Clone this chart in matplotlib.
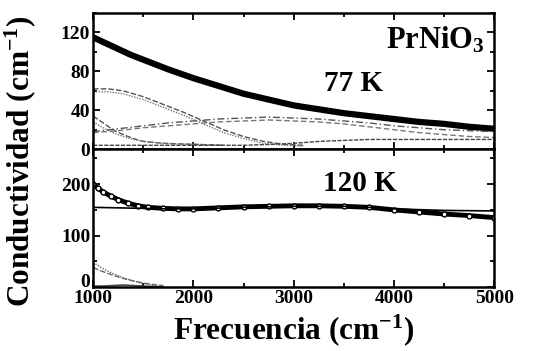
import matplotlib.pyplot as plt
from matplotlib.ticker import MultipleLocator

plt.rcParams['font.family'] = ['Liberation Serif', 'DejaVu Serif']
plt.rcParams['font.weight'] = 'bold'
plt.rcParams['mathtext.fontset'] = 'custom'
plt.rcParams['mathtext.rm'] = 'Liberation Serif:bold'
plt.rcParams['mathtext.it'] = 'Liberation Serif:bold'

# 77 K panel
freq77 = [1000, 1125, 1250, 1375, 1500, 1750, 2000, 2250, 2500, 2750, 3000,
          3250, 3500, 3750, 4000, 4250, 4500, 4750, 5000]
sigma77 = [115, 109, 103, 97, 92, 82, 73, 65, 57, 51, 45, 41, 37, 34, 31, 28, 26, 23, 21]

# oscillator components (77 K)
freqA = [1000, 1150, 1300, 1500, 1700, 1900, 2100, 2300, 2500, 2700, 2900, 3100]
compA = [62, 62, 60, 54, 46, 38, 29, 20, 13, 8, 5, 4]
compA2 = [59, 59, 57, 51, 43, 35, 26, 17, 11, 6, 4, 3]
freqB = [1000, 1100, 1200, 1300, 1400, 1500, 1700, 2000, 2300]
compB = [34, 27, 20, 15, 11, 8, 6, 5, 4]
compC = [28, 22, 17, 13, 10, 8, 6, 5, 4]
freqD = [1000, 1250, 1500, 1750, 2000, 2250, 2500, 2750, 3000, 3250, 3500,
         3750, 4000, 4250, 4500, 4750, 5000]
compD = [18, 21, 24, 27, 29, 31, 32, 33, 32, 31, 29, 27, 24, 22, 20, 19, 18]
compD2 = [17, 19, 22, 24, 26, 28, 29, 30, 29, 28, 26, 23, 20, 17, 15, 13, 12]
freqE = [1000, 1500, 2000, 2500, 2800, 3000, 3250, 3500, 3750, 4000, 4500, 5000]
compE = [4, 4, 4, 4, 5, 6, 8, 9, 10, 10, 10, 10]

# 120 K panel
freq120 = [1000, 1050, 1100, 1175, 1250, 1350, 1450, 1550, 1700, 1850, 2000,
           2250, 2500, 2750, 3000, 3250, 3500, 3750, 4000, 4250, 4500, 4750, 5000]
sigma120 = [200, 192, 185, 177, 170, 163, 158, 155, 153, 152, 152, 154, 156,
            157, 158, 158, 157, 155, 150, 146, 142, 139, 135]
freqFit = [1000, 1250, 1500, 1750, 2000, 2500, 3000, 3500, 3750, 4000, 4500, 5000]
fit120 = [155, 154, 153, 152, 152, 155, 157, 157, 155, 152, 149, 148]
freqLow = [1000, 1100, 1200, 1300, 1400, 1500, 1600, 1700]
low1 = [48, 36, 26, 18, 12, 7, 3, 1]
low2 = [38, 30, 23, 17, 12, 8, 5, 3]
low3 = [2, 2, 3, 4, 3, 2, 1, 0]

fig = plt.figure(figsize=(5.35, 3.51), dpi=100)
ax1 = fig.add_axes([0.174, 0.575, 0.75, 0.388])
ax2 = fig.add_axes([0.174, 0.182, 0.75, 0.393], sharex=ax1)

ax1.plot(freq77, sigma77, color='black', lw=4.5, solid_capstyle='round')
ax1.plot(freqA, compA, color='#555555', lw=1, ls=(0, (4, 1.5)))
ax1.plot(freqA, compA2, color='#777777', lw=1, ls=(0, (1, 1)))
ax1.plot(freqB, compB, color='#555555', lw=1, ls=(0, (4, 1.5)))
ax1.plot(freqB, compC, color='#777777', lw=1, ls=(0, (1, 1)))
ax1.plot(freqD, compD, color='#555555', lw=1, ls=(0, (5, 2, 1, 2)))
ax1.plot(freqD, compD2, color='#777777', lw=1, ls=(0, (4, 2)))
ax1.plot(freqE, compE, color='#444444', lw=1, ls=(0, (3, 1)))

ax2.plot(freq120, sigma120, color='black', lw=3.5, marker='o', ms=3.5,
         mfc='white', mec='black', mew=1)
ax2.plot(freqFit, fit120, color='black', lw=1.2)
ax2.plot(freqLow, low1, color='#666666', lw=1, ls=(0, (1, 1)))
ax2.plot(freqLow, low2, color='#666666', lw=1, ls=(0, (4, 1.5)))
ax2.plot(freqLow, low3, color='#444444', lw=1.2)

ax1.set_xlim(1000, 5000)
ax1.set_ylim(0, 140)
ax2.set_ylim(0, 268)

ax1.yaxis.set_major_locator(MultipleLocator(40))
ax1.yaxis.set_minor_locator(MultipleLocator(20))
ax2.yaxis.set_major_locator(MultipleLocator(100))
ax2.yaxis.set_minor_locator(MultipleLocator(50))
ax2.xaxis.set_major_locator(MultipleLocator(1000))
ax2.xaxis.set_minor_locator(MultipleLocator(500))

for ax in (ax1, ax2):
    ax.tick_params(which='both', direction='in', top=True, right=True,
                   labelsize=14, width=1.3, pad=2)
    ax.tick_params(which='major', length=5)
    ax.tick_params(which='minor', length=3)
    for s in ax.spines.values():
        s.set_linewidth(1.8)
ax1.tick_params(labelbottom=False)

ax1.text(0.975, 0.80, 'PrNiO$_3$', transform=ax1.transAxes, ha='right',
         va='center', fontsize=22, fontweight='bold')
ax1.text(0.65, 0.48, '77 K', transform=ax1.transAxes, ha='center',
         va='center', fontsize=21, fontweight='bold')
ax2.text(0.665, 0.75, '120 K', transform=ax2.transAxes, ha='center',
         va='center', fontsize=21, fontweight='bold')

ax2.set_xlabel('Frecuencia (cm$^{-1}$)', fontsize=22.5, fontweight='bold',
               labelpad=4)
fig.text(0.037, 0.54, 'Conductividad (cm$^{-1}$)', rotation=90,
         ha='center', va='center', fontsize=22.5, fontweight='bold')

# sit the bottom "0" on the axis line so it clears the "1000" label
fig.canvas.draw()
for tick in ax2.yaxis.get_major_ticks():
    if tick.label1.get_text() == '0':
        tick.label1.set_verticalalignment('baseline')

fig.savefig('out.png', dpi=100)
